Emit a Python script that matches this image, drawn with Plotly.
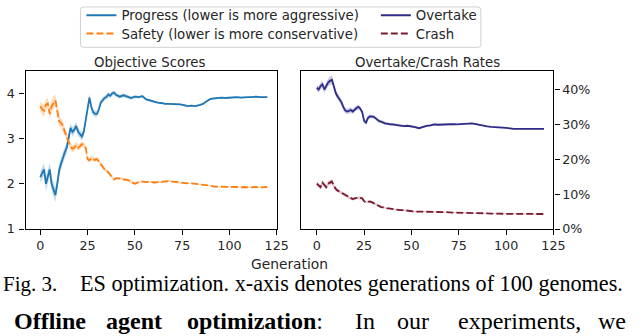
import plotly.graph_objects as go

W, H = 640, 336

gens = list(range(0, 41)) + list(range(42, 121, 2))

progress = [2.15, 2.22, 2.32, 2.0, 2.15, 2.32, 2.0, 1.88, 1.75, 2.0, 2.3, 2.45, 2.6, 2.7, 2.8, 3.0, 3.24, 3.15, 3.2, 3.28,
            3.15, 3.1, 3.05, 3.15, 3.4, 3.7, 3.91, 3.7, 3.58, 3.55, 3.55, 3.65, 3.8, 3.85, 3.9, 3.92, 3.98, 3.95, 4.0, 4.02,
            3.97,
            3.93, 3.96, 3.93, 3.9, 3.93, 3.92, 3.94, 3.87, 3.85, 3.82, 3.8, 3.79, 3.77, 3.77, 3.77, 3.76, 3.76, 3.74, 3.72, 3.73,
            3.72, 3.74, 3.77, 3.83, 3.88, 3.89, 3.9, 3.91, 3.9, 3.91, 3.91, 3.92, 3.91, 3.92, 3.92, 3.92, 3.93, 3.92, 3.92, 3.92]
progress_err = [0.12, 0.13, 0.14, 0.15, 0.14, 0.15, 0.15, 0.16, 0.16, 0.15, 0.14, 0.13, 0.13, 0.12, 0.12, 0.11, 0.1, 0.1, 0.1, 0.09,
                0.09, 0.09, 0.09, 0.09, 0.08, 0.08, 0.08, 0.07, 0.07, 0.07, 0.06, 0.06, 0.06, 0.06, 0.05, 0.05, 0.05, 0.05, 0.05, 0.05,
                0.04,
                0.04, 0.04, 0.04, 0.04, 0.03, 0.03, 0.03, 0.03, 0.03, 0.03,
                0.02, 0.02, 0.02, 0.02, 0.02, 0.02, 0.02, 0.02, 0.02, 0.02,
                0.02, 0.02, 0.02, 0.02, 0.02, 0.02, 0.02, 0.02, 0.02, 0.02,
                0.02, 0.02, 0.02, 0.02, 0.02, 0.02, 0.02, 0.02, 0.02, 0.02]

safety = [3.72, 3.65, 3.62, 3.75, 3.78, 3.55, 3.72, 3.8, 3.85, 3.62, 3.38, 3.35, 3.28, 3.15, 3.05, 2.95, 2.82, 2.78, 2.8, 2.85,
          2.8, 2.83, 2.88, 2.86, 2.8, 2.55, 2.52, 2.57, 2.55, 2.53, 2.55, 2.5, 2.44, 2.38, 2.32, 2.3, 2.25, 2.2, 2.15, 2.1,
          2.12,
          2.12, 2.1, 2.09, 2.05, 2.0, 2.04, 2.05, 2.04, 2.05, 2.03, 2.04, 2.04, 2.05, 2.06, 2.05, 2.04, 2.02, 2.01, 2.01, 2.01,
          2.0, 2.0, 1.98, 1.97, 1.96, 1.94, 1.94, 1.93, 1.93, 1.93, 1.93, 1.93, 1.92, 1.93, 1.92, 1.93, 1.93, 1.92, 1.93, 1.93]
safety_err = [0.11, 0.12, 0.13, 0.13, 0.12, 0.13, 0.13, 0.14, 0.13, 0.12, 0.11, 0.1, 0.1, 0.09, 0.09, 0.08, 0.08, 0.08, 0.07, 0.07,
              0.07, 0.07, 0.06, 0.06, 0.06, 0.06, 0.05, 0.05, 0.05, 0.05, 0.05, 0.04, 0.04, 0.04, 0.04, 0.04, 0.04, 0.03, 0.03, 0.03,
              0.03,
              0.03, 0.03, 0.03, 0.03, 0.02, 0.02, 0.02, 0.02, 0.02, 0.02,
              0.02, 0.02, 0.02, 0.02, 0.015, 0.015, 0.015, 0.015, 0.015, 0.015,
              0.015, 0.015, 0.015, 0.015, 0.015, 0.015, 0.015, 0.015, 0.015, 0.015,
              0.015, 0.015, 0.015, 0.015, 0.015, 0.015, 0.015, 0.015, 0.015, 0.015]

overtake = [0.405, 0.40, 0.41, 0.415, 0.40, 0.41, 0.42, 0.425, 0.428, 0.41, 0.39, 0.38, 0.372, 0.364, 0.35, 0.34, 0.337, 0.34,
            0.341, 0.337, 0.343, 0.347, 0.35, 0.345, 0.335, 0.31, 0.305, 0.318, 0.323, 0.322, 0.322, 0.318, 0.312, 0.309, 0.308,
            0.305, 0.303, 0.302, 0.30, 0.30, 0.30,
            0.298, 0.297, 0.295, 0.296, 0.295, 0.292, 0.289, 0.293, 0.296, 0.297, 0.30, 0.299, 0.30, 0.299, 0.30, 0.301, 0.30,
            0.301, 0.303, 0.302, 0.303, 0.301, 0.298, 0.295, 0.294, 0.293, 0.293, 0.292, 0.291, 0.29, 0.288, 0.287, 0.287,
            0.287, 0.287, 0.287, 0.287, 0.287, 0.287, 0.287]
overtake_err = [0.008, 0.009, 0.01, 0.011, 0.01, 0.011, 0.011, 0.012, 0.012, 0.011, 0.01, 0.01, 0.009, 0.009, 0.009, 0.008,
                0.008, 0.008, 0.008, 0.007, 0.007, 0.007, 0.007, 0.007, 0.006, 0.006, 0.006, 0.006, 0.006, 0.005, 0.005,
                0.005, 0.005, 0.005, 0.005, 0.004, 0.004, 0.004, 0.004, 0.004, 0.004,
                0.004, 0.004, 0.003, 0.003, 0.003, 0.003, 0.003, 0.003, 0.003, 0.003,
                0.003, 0.003, 0.003, 0.003, 0.003, 0.003, 0.002, 0.002, 0.002, 0.002,
                0.002, 0.002, 0.002, 0.002, 0.002, 0.002, 0.002, 0.002, 0.002, 0.002,
                0.002, 0.002, 0.002, 0.002, 0.002, 0.002, 0.002, 0.002, 0.002, 0.002]

crash = [0.13, 0.125, 0.12, 0.133, 0.125, 0.12, 0.13, 0.134, 0.136, 0.125, 0.115, 0.11, 0.107, 0.104, 0.1, 0.098, 0.094, 0.09,
         0.087, 0.086, 0.088, 0.09, 0.09, 0.089, 0.088, 0.08, 0.076, 0.078, 0.079, 0.077, 0.074, 0.071, 0.068, 0.065, 0.063,
         0.062, 0.06, 0.059, 0.059, 0.058, 0.057,
         0.055, 0.054, 0.054, 0.052, 0.05, 0.05, 0.05, 0.05, 0.049, 0.049,
         0.05, 0.049, 0.049, 0.048, 0.048, 0.047, 0.047, 0.047, 0.046, 0.046,
         0.046, 0.045, 0.045, 0.045, 0.045, 0.044, 0.044, 0.044, 0.044, 0.043,
         0.043, 0.043, 0.043, 0.043, 0.043, 0.043, 0.043, 0.043, 0.043, 0.043]
crash_err = [0.006, 0.006, 0.007, 0.007, 0.006, 0.007, 0.007, 0.007, 0.007, 0.006, 0.006, 0.006, 0.005, 0.005, 0.005, 0.005,
             0.005, 0.004, 0.004, 0.004, 0.004, 0.004, 0.004, 0.004, 0.004, 0.003, 0.003, 0.003, 0.003, 0.003, 0.003,
             0.003, 0.003, 0.003, 0.003, 0.003, 0.002, 0.002, 0.002, 0.002, 0.002,
             0.002, 0.002, 0.002, 0.002, 0.002, 0.002, 0.002, 0.002, 0.002, 0.002,
             0.0015, 0.0015, 0.0015, 0.0015, 0.0015, 0.0015, 0.0015, 0.0015, 0.0015, 0.0015,
             0.0015, 0.0015, 0.0015, 0.0015, 0.0015, 0.0015, 0.0015, 0.0015, 0.0015, 0.0015,
             0.0015, 0.0015, 0.0015, 0.0015, 0.0015, 0.0015, 0.0015, 0.0015, 0.0015, 0.0015]

x_ticks = [0, 25, 50, 75, 100, 125]
left_y_ticks = [1, 2, 3, 4]
right_y_ticks = [0, 0.1, 0.2, 0.3, 0.4]

for arr in (progress, progress_err, safety, safety_err, overtake, overtake_err, crash, crash_err):
    assert len(arr) == len(gens), len(arr)

C_PROG = "#1f77b4"
C_SAFE = "#ff7f0e"
C_OVER = "#2e2d88"
C_CRASH = "#7a1b32"

def px(x):
    return x / W

def py(y):
    return 1 - y / H

fig = go.Figure()

def band(vals, errs, color, xa, ya):
    up = [v + e for v, e in zip(vals, errs)]
    lo = [v - e for v, e in zip(vals, errs)]
    fig.add_trace(go.Scatter(x=gens + gens[::-1], y=up + lo[::-1], fill="toself", fillcolor=color,
                             line=dict(width=0), hoverinfo="skip", showlegend=False, xaxis=xa, yaxis=ya))

band(progress, progress_err, "rgba(31,119,180,0.28)", "x", "y")
band(safety, safety_err, "rgba(255,127,14,0.28)", "x", "y")
band(overtake, overtake_err, "rgba(46,45,136,0.25)", "x2", "y2")
band(crash, crash_err, "rgba(122,27,50,0.25)", "x2", "y2")

fig.add_trace(go.Scatter(x=gens, y=progress, mode="lines", name="Progress (lower is more aggressive)",
                         line=dict(color=C_PROG, width=1.8), xaxis="x", yaxis="y", legend="legend"))
fig.add_trace(go.Scatter(x=gens, y=safety, mode="lines", name="Safety (lower is more conservative)",
                         line=dict(color=C_SAFE, width=1.8, dash="7px,3px"), xaxis="x", yaxis="y", legend="legend2"))
fig.add_trace(go.Scatter(x=gens, y=overtake, mode="lines", name="Overtake",
                         line=dict(color=C_OVER, width=1.8), xaxis="x2", yaxis="y2", legend="legend3"))
fig.add_trace(go.Scatter(x=gens, y=crash, mode="lines", name="Crash",
                         line=dict(color=C_CRASH, width=1.8, dash="7px,3px"), xaxis="x2", yaxis="y2", legend="legend4"))

tick_font = dict(family="DejaVu Sans", size=12.7, color="#262626")
axis_common = dict(showline=True, mirror=True, linecolor="black", linewidth=1.4, ticks="outside", ticklen=5,
                   tickwidth=1.2, tickcolor="black", showgrid=False, zeroline=False, tickfont=tick_font)

ydom = [py(232), py(68)]

leg_font = dict(family="DejaVu Sans", size=13.3, color="#262626")

def leg(xp, yp):
    return dict(x=px(xp), y=py(yp), xanchor="left", yanchor="middle", bgcolor="rgba(0,0,0,0)", borderwidth=0,
                font=leg_font, itemwidth=30)

fig.update_layout(
    width=W, height=H, margin=dict(l=0, r=0, t=0, b=0),
    paper_bgcolor="white", plot_bgcolor="white",
    xaxis=dict(domain=[px(26), px(282)], range=[-7.8, 125], tickvals=x_ticks, anchor="y", **axis_common),
    yaxis=dict(domain=ydom, range=[1, 4.49], tickvals=left_y_ticks, anchor="x", ticklabelstandoff=2,
               **axis_common),
    xaxis2=dict(domain=[px(307), px(564)], range=[-8.2, 125], tickvals=x_ticks, anchor="y2", **axis_common),
    yaxis2=dict(domain=ydom, range=[0, 0.452], tickvals=right_y_ticks, tickformat=".0%", side="right",
                anchor="x2", **axis_common),
    legend=leg(83, 10),
    legend2=leg(83, 29),
    legend3=leg(383, 10),
    legend4=leg(383, 29),
    showlegend=True,
)

# legend frame (rounded)
x0, x1, y0, y1, r = 82, 490, 1, 43, 3
path = (f"M {px(x0 + r)},{py(y0)} L {px(x1 - r)},{py(y0)} Q {px(x1)},{py(y0)} {px(x1)},{py(y0 + r)} "
        f"L {px(x1)},{py(y1 - r)} Q {px(x1)},{py(y1)} {px(x1 - r)},{py(y1)} "
        f"L {px(x0 + r)},{py(y1)} Q {px(x0)},{py(y1)} {px(x0)},{py(y1 - r)} "
        f"L {px(x0)},{py(y0 + r)} Q {px(x0)},{py(y0)} {px(x0 + r)},{py(y0)} Z")
fig.add_shape(type="path", path=path, xref="paper", yref="paper", line=dict(color="#d0d0d0", width=1),
              fillcolor="rgba(255,255,255,0.8)", layer="below")

title_font = dict(family="DejaVu Sans", size=13.3, color="#262626")
fig.add_annotation(text="Objective Scores", x=px(153), y=py(59), xref="paper", yref="paper",
                   showarrow=False, font=title_font, xanchor="center", yanchor="middle")
fig.add_annotation(text="Overtake/Crash Rates", x=px(436), y=py(59), xref="paper", yref="paper",
                   showarrow=False, font=title_font, xanchor="center", yanchor="middle")
fig.add_annotation(text="Generation", x=px(295), y=py(268), xref="paper", yref="paper",
                   showarrow=False, font=dict(family="DejaVu Sans", size=13.8, color="#262626"),
                   xanchor="center", yanchor="middle")

serif = "Liberation Serif"
fig.add_annotation(text="Fig. 3.", x=px(1), y=py(289), xref="paper", yref="paper", showarrow=False,
                   font=dict(family=serif, size=21, color="black"), xanchor="left", yanchor="middle")
fig.add_annotation(text="ES optimization. x-axis denotes generations of 100 genomes.", x=px(79), y=py(289),
                   xref="paper", yref="paper", showarrow=False,
                   font=dict(family=serif, size=22.2, color="black"), xanchor="left", yanchor="middle")

body_words = [("<b>Offline</b>", 12), ("<b>agent</b>", 106), ("<b>optimization</b>:", 189), ("In", 360),
              ("our", 403), ("experiments,", 465), ("we", 607)]
for word, xw in body_words:
    fig.add_annotation(text=word, x=px(xw), y=py(328), xref="paper", yref="paper", showarrow=False,
                       font=dict(family=serif, size=24, color="black"), xanchor="left", yanchor="middle")

post = ("document.body.style.margin='0px';"
        "var d=document.getElementById('{plot_id}');"
        "d.style.position='fixed';d.style.left='0px';d.style.top='0px';")
fig.write_html("out.html", config={"displayModeBar": False}, post_script=post)
